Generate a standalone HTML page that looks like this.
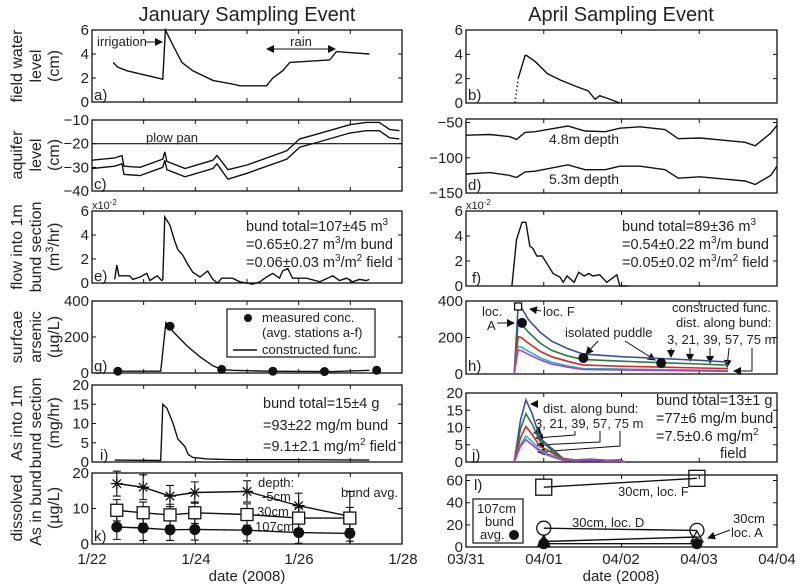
<!DOCTYPE html>
<html><head><meta charset="utf-8"><style>
body{margin:0;background:#fff}
svg{display:block;font-family:"Liberation Sans",Arial,sans-serif;fill:#222}
text{fill:#222}
</style></head><body>
<svg id="fig" width="800" height="586" viewBox="0 0 800 586" xmlns="http://www.w3.org/2000/svg">
<defs><marker id="ah" markerWidth="8" markerHeight="8" refX="7" refY="4" orient="auto" markerUnits="userSpaceOnUse"><path d="M0,0 L8,4 L0,8 z" fill="#111"/></marker></defs>
<text x="247" y="21" font-size="20" text-anchor="middle">January Sampling Event</text>
<text x="621" y="21" font-size="20" text-anchor="middle">April Sampling Event</text>

<g font-size="16" text-anchor="middle">
<text transform="translate(22,66) rotate(-90)">field water</text><text transform="translate(41,66) rotate(-90)">level</text><text transform="translate(59,66) rotate(-90)">(cm)</text>
<text transform="translate(22,155) rotate(-90)">aquifer</text><text transform="translate(41,155) rotate(-90)">level</text><text transform="translate(59,155) rotate(-90)">(cm)</text>
<text transform="translate(22,247) rotate(-90)">flow into 1m</text><text transform="translate(41,247) rotate(-90)">bund section</text><text transform="translate(59,247) rotate(-90)">(m<tspan font-size="11" dy="-6">3</tspan><tspan dy="6">/hr)</tspan></text>
<text transform="translate(22,337) rotate(-90)">surfcae</text><text transform="translate(41,337) rotate(-90)">arsenic</text><text transform="translate(59,337) rotate(-90)">(µg/L)</text>
<text transform="translate(22,423) rotate(-90)">As into 1m</text><text transform="translate(41,423) rotate(-90)">bund section</text><text transform="translate(59,423) rotate(-90)">(mg/hr)</text>
<text transform="translate(22,508) rotate(-90)">dissolved</text><text transform="translate(41,508) rotate(-90)">As in bund</text><text transform="translate(59,508) rotate(-90)">(µg/L)</text>
</g>

<g font-size="15">
<text x="94" y="100">a)</text><text x="94" y="189">c)</text><text x="94" y="281">e)</text><text x="94" y="371">g)</text><text x="100" y="460">i)</text><text x="94" y="541">k)</text>
<text x="468" y="100">b)</text><text x="468" y="190">d)</text><text x="472" y="283">f)</text><text x="468" y="371">h)</text><text x="472" y="460">j)</text><text x="474" y="490">l)</text>
</g>

<g font-size="13">
<text x="97" y="46">irrigation</text>
<line x1="146" y1="42" x2="162" y2="42" stroke="#111" marker-end="url(#ah)"/>
<text x="301" y="46" text-anchor="middle">rain</text>
<line x1="300" y1="49" x2="267" y2="49" stroke="#111" marker-end="url(#ah)"/>
<line x1="300" y1="49" x2="335" y2="49" stroke="#111" marker-end="url(#ah)"/>
<text x="146" y="142">plow pan</text>
<text x="92" y="209" font-size="11">x10<tspan font-size="8" dy="-4">-2</tspan></text>
<text x="466" y="209" font-size="11">x10<tspan font-size="8" dy="-4">-2</tspan></text>
<g font-size="14.5">
<text x="246" y="231">bund total=107±45 m<tspan font-size="10" dy="-6">3</tspan></text>
<text x="246" y="249">=0.65±0.27 m<tspan font-size="10" dy="-6">3</tspan><tspan dy="6">/m bund</tspan></text>
<text x="246" y="267">=0.06±0.03 m<tspan font-size="10" dy="-6">3</tspan><tspan dy="6">/m</tspan><tspan font-size="10" dy="-6">2</tspan><tspan dy="6"> field</tspan></text>
<text x="622" y="231">bund total=89±36 m<tspan font-size="10" dy="-6">3</tspan></text>
<text x="622" y="249">=0.54±0.22 m<tspan font-size="10" dy="-6">3</tspan><tspan dy="6">/m bund</tspan></text>
<text x="622" y="267">=0.05±0.02 m<tspan font-size="10" dy="-6">3</tspan><tspan dy="6">/m</tspan><tspan font-size="10" dy="-6">2</tspan><tspan dy="6"> field</tspan></text>
<text x="263" y="408">bund total=15±4 g</text>
<text x="263" y="430">=93±22 mg/m bund</text>
<text x="263" y="451">=9.1±2.1 mg/m<tspan font-size="10" dy="-6">2</tspan><tspan dy="6"> field</tspan></text>
<text x="656" y="405">bund total=13±1 g</text>
<text x="656" y="423">=77±6 mg/m bund</text>
<text x="656" y="441">=7.5±0.6 mg/m<tspan font-size="10" dy="-6">2</tspan></text>
<text x="720" y="458">field</text>
</g>
<text x="549" y="144" font-size="14">4.8m depth</text>
<text x="549" y="184" font-size="14">5.3m depth</text>
<rect x="227" y="309" width="148" height="48" fill="#fff" stroke="#111" stroke-width="1.2"/>
<circle cx="248" cy="318" r="4" fill="#111"/>
<text x="262" y="322">measured conc.</text>
<text x="262" y="337">(avg. stations a-f)</text>
<line x1="233" y1="350" x2="257" y2="350" stroke="#111" stroke-width="1.4"/>
<text x="262" y="354">constructed func.</text>
<text x="543" y="316">loc. F</text>
<line x1="541" y1="311" x2="530" y2="309" stroke="#111" marker-end="url(#ah)"/>
<text x="482" y="316">loc.</text><text x="487" y="330">A</text>
<line x1="497" y1="323" x2="514" y2="323" stroke="#111" marker-end="url(#ah)"/>
<text x="565" y="337">isolated puddle</text>
<line x1="598" y1="341" x2="586" y2="354" stroke="#111" marker-end="url(#ah)"/>
<line x1="625" y1="341" x2="655" y2="360" stroke="#111" marker-end="url(#ah)"/>
<text x="672" y="312">constructed func.</text>
<text x="676" y="327">dist. along bund:</text>
<text x="667" y="344">3, 21, 39, 57, 75 m</text>
<line x1="671" y1="348" x2="671" y2="357" stroke="#111" marker-end="url(#ah)"/>
<line x1="690" y1="348" x2="690" y2="361" stroke="#111" marker-end="url(#ah)"/>
<line x1="710" y1="348" x2="710" y2="363" stroke="#111" marker-end="url(#ah)"/>
<line x1="729" y1="348" x2="727" y2="367" stroke="#111" marker-end="url(#ah)"/>
<polyline points="752,348 752,371 734,371" fill="none" stroke="#111" marker-end="url(#ah)"/>
<text x="543" y="413">dist. along bund:</text>
<text x="535" y="428">3, 21, 39, 57, 75 m</text>
<polyline points="537,407 537,404 531,404" fill="none" stroke="#111" marker-end="url(#ah)"/>
<line x1="540" y1="431" x2="534" y2="433" stroke="#111" marker-end="url(#ah)"/>
<polyline points="575,431 575,435 536,438" fill="none" stroke="#111" marker-end="url(#ah)"/>
<polyline points="600,431 600,442 537,445" fill="none" stroke="#111" marker-end="url(#ah)"/>
<polyline points="620,431 620,446 538,452" fill="none" stroke="#111" marker-end="url(#ah)"/>
<text x="258" y="487">depth:</text><text x="262" y="501">-5cm</text><text x="257" y="516">30cm</text><text x="255" y="531">107cm</text>
<text x="341" y="497">bund avg.</text>
<text x="618" y="496">30cm, loc. F</text>
<text x="572" y="527">30cm, loc. D</text>
<text x="733" y="523">30cm</text><text x="731" y="537">loc. A</text>
<line x1="730" y1="530" x2="708" y2="538" stroke="#111" marker-end="url(#ah)"/>
<rect x="473" y="499" width="50" height="44" fill="#fff" stroke="#111" stroke-width="1.2"/>
<text x="477" y="513">107cm</text><text x="485" y="526">bund</text><text x="480" y="539">avg.</text>
<circle cx="514" cy="535" r="5" fill="#111"/>
</g>

<g font-size="15" text-anchor="middle">
<text x="92" y="564">1/22</text><text x="196" y="564">1/24</text><text x="299" y="564">1/26</text><text x="403" y="564">1/28</text>
<text x="466" y="564">03/31</text><text x="544" y="564">04/01</text><text x="621" y="564">04/02</text><text x="699" y="564">04/03</text><text x="777" y="564">04/04</text>
<text x="247" y="581">date (2008)</text>
<text x="621" y="581">date (2008)</text>
</g>
<g id="marks"></g>
</svg>
<script>
// ---- data (time in days since 1/22 for left, since 03/31 for right) ----
const aT=[0.41,0.50,0.68,1.37,1.42,1.57,1.74,1.95,2.34,2.72,2.86,3.25,3.38,3.50,3.69,3.83,4.21,4.60,4.73,5.04,5.37];
const aV=[3.3,2.9,2.6,1.9,6.0,4.7,3.3,2.6,1.8,1.5,1.35,1.35,1.35,2.0,2.6,3.3,3.4,3.5,4.2,4.1,4.0];
const cT=[0,0.44,0.58,0.62,0.93,1.37,1.41,1.45,1.80,2.34,2.42,2.63,3.0,3.77,4.02,4.35,4.99,5.31,5.56,5.76,5.95];
const cUpper=[-27,-26,-25,-29.5,-30,-26.5,-23.5,-27.5,-30.5,-27,-25,-31,-29,-23,-18,-16,-12,-11,-11,-14,-14.5];
const cLower=[-30.5,-29.5,-28.5,-33,-33.5,-30,-27,-31,-34,-30.5,-28.5,-35,-32.5,-26.5,-21.5,-19.5,-15.5,-14.5,-14.5,-17.5,-18];
const plowPan=-20;
const bDotT=[0.63,0.67];const bDotV=[0,2];
const bT=[0.67,0.76,0.78,0.89,1.05,1.21,1.40,1.57,1.66,1.72,1.81,1.98];
const bV=[2,3.9,3.9,3.4,2.4,1.9,1.4,1.0,0.3,0.6,0.4,0];
const dT=[0,0.31,0.56,0.65,0.76,0.89,1.31,1.53,1.79,1.98,2.24,2.56,2.73,3.01,3.39,3.59,3.72,3.92,4.0];
const d48=[-68,-67,-70,-74,-64,-63,-55,-62,-63,-58,-56,-60,-73,-72,-76,-78,-83,-65,-54];
const d53=[-123,-121,-125,-128,-120,-119,-110,-117,-117,-112,-112,-117,-129,-127,-131,-133,-138,-125,-112];
const eT=[0.44,0.48,0.52,0.73,0.79,0.93,1.06,1.12,1.26,1.35,1.37,1.41,1.51,1.60,1.66,1.76,1.86,1.95,2.09,2.24,2.34,2.43,2.51,2.72,2.86,3.11,3.25,3.38,3.50,3.63,3.69,3.79,3.88,4.15,4.41,4.66,4.79,4.93,5.04,5.18,5.31,5.37];
const eV=[0.3,1.5,0.6,0.6,0.3,0.5,0.8,0.2,0.6,0.2,0.3,5.5,4.8,3.5,2.8,2.3,1.5,0.9,0.5,1.0,0.3,0,0.4,0.4,0.1,-0.1,0.1,0.5,0.8,0.4,1.0,1.2,0.4,0.4,0.1,0.6,0.2,0.4,0.1,0.3,0.2,0.3];
const fT=[0.59,0.65,0.72,0.77,0.82,0.86,0.91,0.98,1.04,1.12,1.21,1.25,1.30,1.39,1.45,1.52,1.58,1.63,1.72,1.81,1.94,1.98,2.07];
const fV=[0,3.7,5.1,5.1,3.2,3.0,2.4,2.4,1.8,1.0,0.7,0.3,0.8,0.3,1.1,0.8,1.0,0.8,0.9,0.3,0.9,0,0];
const gT=[0.43,1.33,1.43,1.57,1.84,2.09,2.34,2.51,2.72,3.38,4.66,5.37];
const gV=[10,10,280,230,150,90,40,20,15,10,8,15];
const gDotT=[0.50,1.51,2.51,3.50,4.50,5.51];
const gDotV=[10,260,20,10,8,15];
const hT=[0.62,0.67,0.71,0.8,0.95,1.1,1.3,1.5,2.0,2.5,3.0,3.37];
const h3=[0,370,365,300,230,180,140,110,95,85,75,65];
const h21=[0,280,275,230,170,130,100,80,70,62,55,48];
const h39=[0,205,200,170,125,95,70,50,42,38,33,30];
const h57=[0,150,148,125,90,65,45,30,27,24,22,20];
const h75=[0,130,128,108,78,55,38,25,22,20,17,15];
const hSqT=[0.67];const hSqV=[370];
const hDotT=[0.72,1.51,2.51];const hDotV=[280,88,60];
const iT=[0.44,1.33,1.37,1.45,1.57,1.66,1.80,1.86,1.95,2.22,2.72,4.02,5.37];
const iV=[0.5,0.4,15,14,10,6,4,2,1.2,0.8,0.6,0.6,0.5];
const jT=[0.62,0.70,0.77,0.85,0.95,1.05,1.15,1.25,1.4,1.6,1.8,1.98,2.05];
const j3=[0,12,18,14,7,5,3,1,0.6,0.8,0.5,0.6,0];
const j21=[0,9.5,14,11,6,4.5,2.5,1,0.6,0.7,0.5,0.5,0];
const j39=[0,7,10.3,8,4.5,3.5,2,0.8,0.5,0.6,0.4,0.4,0];
const j57=[0,5,7.5,6,3.5,2.5,1.5,0.6,0.4,0.5,0.3,0.3,0];
const j75=[0,4.5,6.5,5,3,2,1.2,0.5,0.3,0.4,0.3,0.3,0];
const kT=[0.48,0.99,1.51,1.99,3.0,4.0,4.99];
const kStar=[17,16,13.5,14.5,14.8,10.8,7.8];
const kStarErr=[3.5,3.5,3,3,3,3.5,7];
const kSq=[9.5,8.8,8.2,8.8,8.3,7.3,7.3];
const kSqErr=[3,3,3,3,3,3,3];
const kDot=[4.8,4.5,4,4.1,3.9,3.2,3];
const kDotErr=[3.5,3.5,3,3,3,3,3];
const lT=[1.0,2.97];
const lLocF=[54,62];
const lLocD=[17,15];
const lLocA=[5,9];
const lAvg=[3,3];
const tickA=[0,2,4,6],tickC=[-40,-30,-20,-10],tickD=[-150,-100,-50],tickG=[0,200,400],tickI=[0,5,10,15,20],tickK=[0,10,20],tickL=[0,20,40,60];

const NS="http://www.w3.org/2000/svg";
const G=document.getElementById('marks');
function mk(tag,at,parent){const e=document.createElementNS(NS,tag);for(const k in at)e.setAttribute(k,at[k]);(parent||G).appendChild(e);return e;}
function panel(name,x0,x1,y0,y1,xmin,xmax,ymin,ymax,yt,xt){
  const sx=t=>x0+(t-xmin)/(xmax-xmin)*(x1-x0);
  const sy=v=>y1-(v-ymin)/(ymax-ymin)*(y1-y0);
  const g=mk('g',{});
  
  
  const fr=mk('rect',{x:x0,y:y0,width:x1-x0,height:y1-y0,fill:'none',stroke:'#111','stroke-width':1.3},g);
  
  
  for(const t of xt){const x=sx(t);
    const tk=mk('path',{d:`M${x},${y1}v-4M${x},${y0}v4`,stroke:'#111','stroke-width':1},g);
    
    }
  for(const v of yt){const y=sy(v);
    const tk=mk('path',{d:`M${x0},${y}h4M${x1},${y}h-4`,stroke:'#111','stroke-width':1},g);
    
    
    const lb=mk('text',{x:x0-3,y:y+5,'font-size':15,'text-anchor':'end'},g);
    lb.textContent=(v<0?'\u2212'+(-v):v);
    
    }
  return {sx,sy,g};
}
function line(p,T,V,name,color,w,dash){
  const d=T.map((t,i)=>(i?'L':'M')+p.sx(t).toFixed(1)+','+p.sy(V[i]).toFixed(1)).join('');
  const e=mk('path',{d,fill:'none',stroke:color||'#111','stroke-width':w||1.4});
  if(dash)e.setAttribute('stroke-dasharray',dash);
  
  
  return e;
}
function marker(p,t,v,type,name,r,fill){
  const x=p.sx(t),y=p.sy(v);r=r||4.5;let e;
  if(type==='dot')e=mk('circle',{cx:x,cy:y,r,fill:'#111'});
  else if(type==='circ')e=mk('circle',{cx:x,cy:y,r,fill:'none',stroke:'#111','stroke-width':1.3});
  else if(type==='sq')e=mk('rect',{x:x-r,y:y-r,width:2*r,height:2*r,fill:fill||'none',stroke:'#111','stroke-width':1.3});
  else if(type==='tri')e=mk('path',{d:`M${x},${y-r}L${x+r},${y+r*0.8}L${x-r},${y+r*0.8}z`,fill:fill||'none',stroke:'#111','stroke-width':1.3});
  else e=mk('path',{d:`M${x-r},${y}h${2*r}M${x},${y-r}v${2*r}M${x-r*.7},${y-r*.7}l${1.4*r},${1.4*r}M${x-r*.7},${y+r*.7}l${1.4*r},${-1.4*r}`,stroke:'#111','stroke-width':1.3});
  
  
}
function errbar(p,t,v,err,name){
  const x=p.sx(t),a=p.sy(v+err),b=p.sy(Math.max(v-err,0));
  const e=mk('path',{d:`M${x},${a}V${b}M${x-4},${a}h8M${x-4},${b}h8`,stroke:'#111','stroke-width':1.1});
  
  
}
const days6=[0,1,2,3,4,5,6],days4=[0,1,2,3,4];
// Panel a
const pa=panel('panel-a',92,402,30,102,0,6,0,6,tickA,days6);
line(pa,aT,aV,'field-water-level-jan');
// Panel c
const pc=panel('panel-c',92,402,120,191,0,6,-40,-10,tickC,days6);
line(pc,[0,6],[plowPan,plowPan],'plow-pan-line','#111',1.2);
line(pc,cT,cUpper,'aquifer-level-upper');
line(pc,cT,cLower,'aquifer-level-lower');
// Panel e
const pe=panel('panel-e',92,402,211,283,0,6,0,6,tickA,days6);
line(pe,eT,eV,'flow-jan');
// Panel g
const pg=panel('panel-g',92,402,301,373,0,6,0,400,tickG,days6);
line(pg,gT,gV,'constructed-func-jan');
gDotT.forEach((t,i)=>marker(pg,t,gDotV[i],'dot','measured-conc-point'));
// Panel i
const pi=panel('panel-i',92,402,385,462,0,6,0,20,tickI,days6);
line(pi,iT,iV,'as-flux-jan');
// Panel k
const pk=panel('panel-k',92,402,473,544,0,6,0,20,tickK,days6);
line(pk,kT,kStar,'depth-5cm-line');line(pk,kT,kSq,'depth-30cm-line');line(pk,kT,kDot,'depth-107cm-line');
kT.forEach((t,i)=>{errbar(pk,t,kStar[i],kStarErr[i],'err-5cm');errbar(pk,t,kSq[i],kSqErr[i],'err-30cm');errbar(pk,t,kDot[i],kDotErr[i],'err-107cm');
  marker(pk,t,kStar[i],'star','point-5cm',6);marker(pk,t,kSq[i],'sq','point-30cm',6,'#fff');marker(pk,t,kDot[i],'dot','point-107cm',5.5);});
// Panel b
const pb=panel('panel-b',466,777,30,103,0,4,0,6,tickA,days4);
line(pb,bDotT,bDotV,'field-water-dotted','#111',1.4,'1.5,2.5');
line(pb,bT,bV,'field-water-level-apr');
// Panel d
const pd=panel('panel-d',466,777,119,193,0,4,-150,-45,tickD,days4);
line(pd,dT,d48,'aquifer-4.8m');line(pd,dT,d53,'aquifer-5.3m');
// Panel f
const pf=panel('panel-f',466,777,211,286,0,4,0,6,tickA,days4);
line(pf,fT,fV,'flow-apr');
// Panel h
const ph=panel('panel-h',466,777,301,374,0,4,0,400,tickG,days4);
const hc=[['#3a4fa8',h3,'3m'],['#1f7f3f',h21,'21m'],['#e0241f',h39,'39m'],['#22b5c5',h57,'57m'],['#b23bbf',h75,'75m']];
hc.forEach(c=>line(ph,hT,c[1],'arsenic-'+c[2],c[0],1.6));
marker(ph,hSqT[0],hSqV[0],'sq','loc-f-point',3.5,'#fff');
hDotT.forEach((t,i)=>marker(ph,t,hDotV[i],'dot','measured-point',5));
// Panel j
const pj=panel('panel-j',466,777,393,462,0,4,0,20,tickI,days4);
const jc=[['#3a4fa8',j3,'3m'],['#1f7f3f',j21,'21m'],['#e0241f',j39,'39m'],['#22b5c5',j57,'57m'],['#b23bbf',j75,'75m']];
jc.forEach(c=>line(pj,jT,c[1],'as-flux-'+c[2],c[0],1.6));
// Panel l
const pl=panel('panel-l',466,777,475,547,0,4,0,65,tickL,days4);
line(pl,lT,lLocF,'loc-f-line');line(pl,lT,lLocD,'loc-d-line');line(pl,lT,lLocA,'loc-a-line');line(pl,lT,lAvg,'bund-avg-line');
lT.forEach((t,i)=>{marker(pl,t,lLocF[i],'sq','loc-f-point',8);marker(pl,t,lLocD[i],'circ','loc-d-point',7);
  marker(pl,t,lLocA[i],'tri','loc-a-point',6,i?'none':'#111');marker(pl,t,lAvg[i],'dot','bund-avg-point',5.5);});
</script>
</body></html>
